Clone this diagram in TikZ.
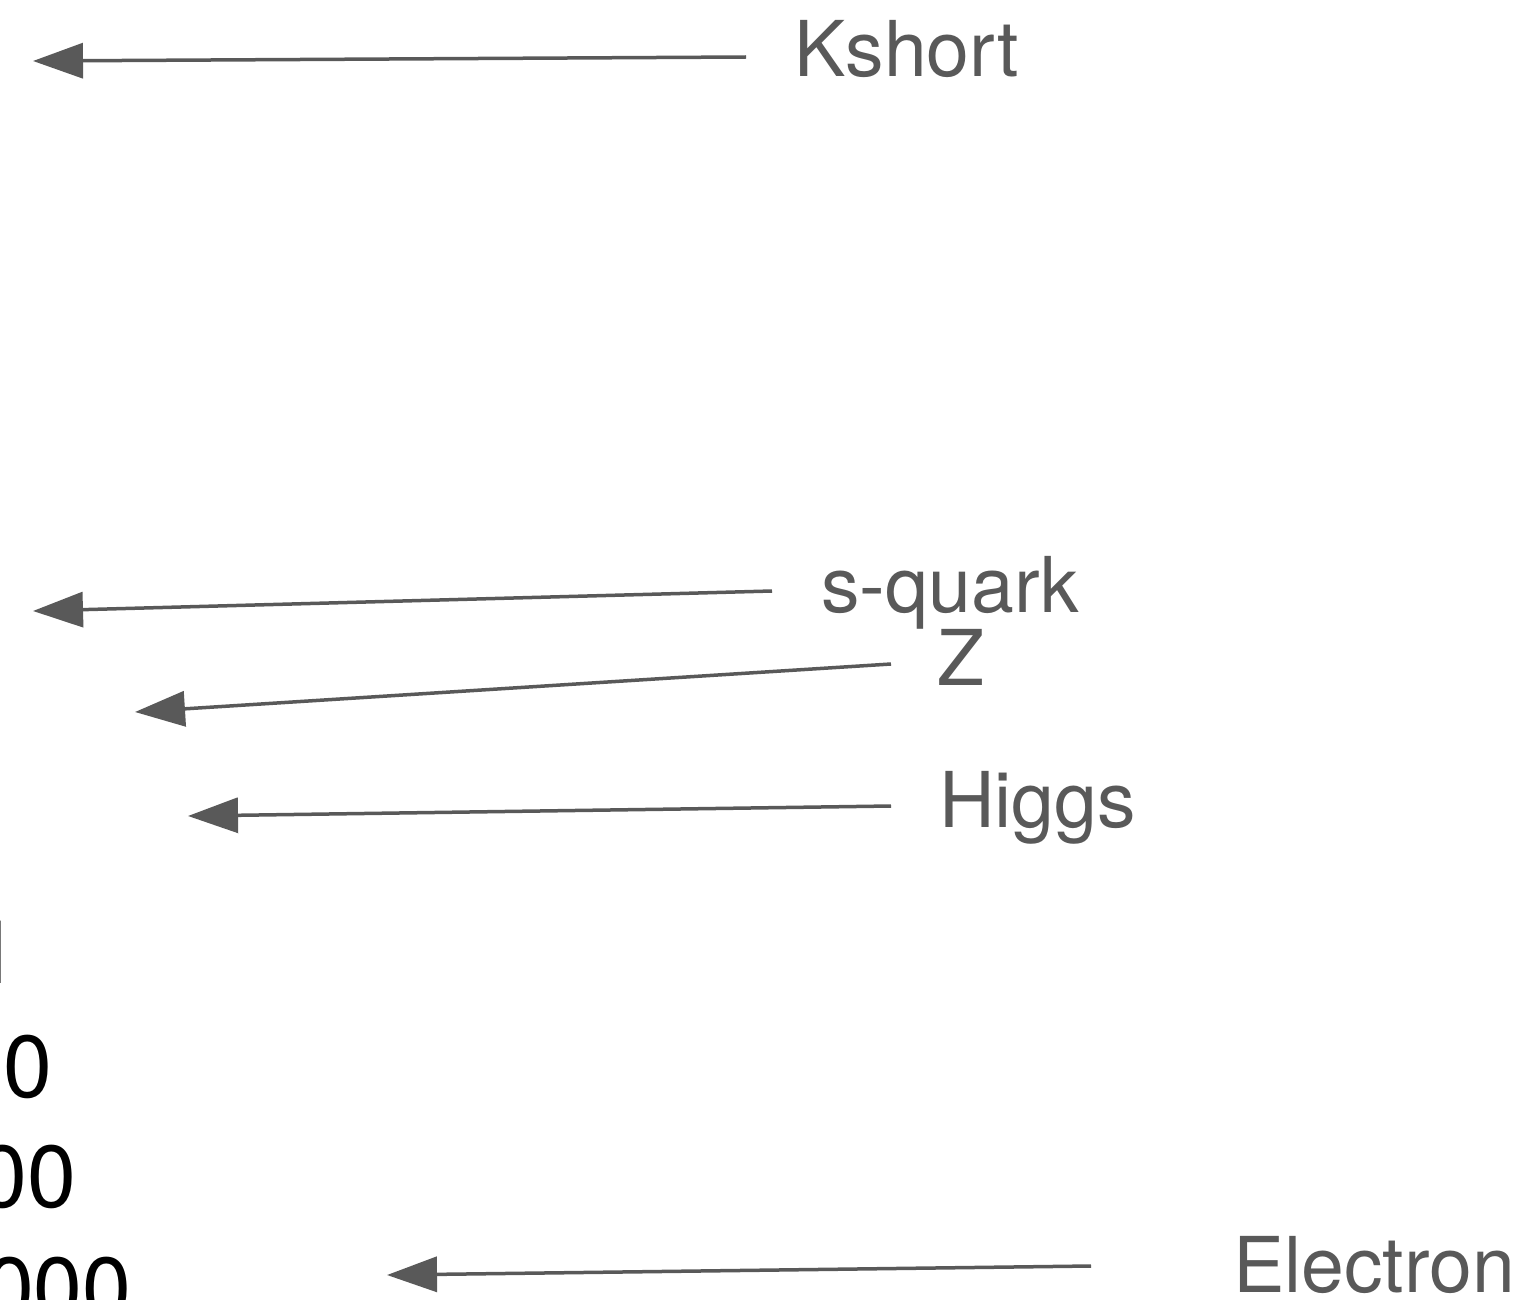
\documentclass[tikz,border=0pt]{standalone}
\usepackage{fontspec}
\setmainfont{TeX Gyre Heros}
\usetikzlibrary{arrows.meta}
\definecolor{arrgray}{RGB}{89,89,89}
\tikzset{
  lbl/.style={anchor=base west, inner sep=0pt, text=arrgray, font=\fontsize{77}{90}\selectfont},
  num/.style={anchor=base east, inner sep=0pt, text=black, font=\fontsize{88}{100}\selectfont},
  ptr/.style={draw=arrgray, line width=3.5pt, -{Triangle[length=50pt,width=35pt]}, arrgray},
}
\begin{document}
\begin{tikzpicture}[x=1pt,y=-1pt]
\useasboundingbox (0,0) rectangle (1526,1300);
\clip (0,0) rectangle (1526,1300);
% labels
\node[lbl] (kshort) at (794,77) {Kshort};
\node[lbl] (squark) at (821,612) {s-quark};
\node[lbl] (z) at (937.5,685) {Z};
\node[lbl] (higgs) at (939,827) {Higgs};
\node[lbl] (electron) at (1233,1292) {Electron};
% numbers (cut at the left edge)
\node[num] (n1) at (20,983) {1};
\node[num] (n10) at (53,1097) {10};
\node[num] (n100) at (77,1207) {100};
\node[num] (n1000) at (132,1319) {1000};
% arrow ends
\coordinate (ks-s) at (746,57);
\coordinate (ks-t) at (33,61);
\coordinate (sq-s) at (772,591);
\coordinate (sq-t) at (33,611);
\coordinate (z-s) at (891,664);
\coordinate (z-t) at (135,712);
\coordinate (h-s) at (891,806);
\coordinate (h-t) at (188,816);
\coordinate (e-s) at (1091,1266);
\coordinate (e-t) at (387,1275);
\draw[ptr] (ks-s) -- (ks-t);
\draw[ptr] (sq-s) -- (sq-t);
\draw[ptr] (z-s) -- (z-t);
\draw[ptr] (h-s) -- (h-t);
\draw[ptr] (e-s) -- (e-t);
\end{tikzpicture}
\end{document}
